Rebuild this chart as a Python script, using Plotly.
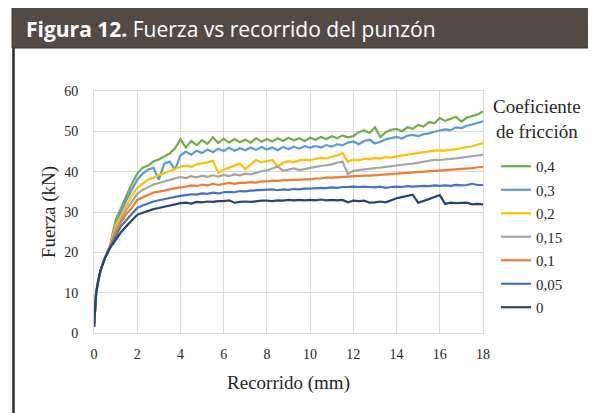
import plotly.graph_objects as go

# Recorrido (mm)
recorrido = [
    0.0, 0.05, 0.1, 0.2, 0.3, 0.5, 0.75, 1.0, 1.25, 1.5, 1.75,
    2.0, 2.25, 2.5, 2.75, 3.0, 3.25, 3.5, 3.75,
    4.0, 4.25, 4.5, 4.75, 5.0, 5.25, 5.5, 5.75,
    6.0, 6.25, 6.5, 6.75, 7.0, 7.25, 7.5, 7.75,
    8.0, 8.25, 8.5, 8.75, 9.0, 9.25, 9.5, 9.75,
    10.0, 10.25, 10.5, 10.75, 11.0, 11.25, 11.5, 11.75,
    12.0, 12.25, 12.5, 12.75, 13.0, 13.25, 13.5, 13.75,
    14.0, 14.25, 14.5, 14.75, 15.0, 15.25, 15.5, 15.75,
    16.0, 16.25, 16.5, 16.75, 17.0, 17.25, 17.5, 17.75,
    18.0,
]

f_04 = [
    1.5, 7, 10, 13, 15.5, 18.5, 21.8, 28, 31, 34, 37,
    39.5, 41, 41.5, 42.5, 43, 43.8, 44.5, 45.8,
    48, 46, 47.6, 46.6, 47.8, 46.9, 48.5, 47.1,
    48.2, 47.2, 48.1, 47.3, 47.9, 47.2, 48.3, 47.4,
    48.1, 47.5, 48.3, 47.6, 48.4, 47.8, 48.3, 47.6,
    48.4, 47.9, 48.6, 48.1, 48.8, 48.3, 49.0, 48.5,
    48.8, 49.8, 50.2, 49.6, 51.0, 48.6, 49.8, 50.4,
    50.6, 50.0, 51.0, 50.6, 51.6, 51.2, 52.3, 52.0,
    53.3, 52.6, 53.2, 53.6, 52.4, 53.4, 53.8, 54.2,
    54.9,
]

f_03 = [
    1.5, 7, 10, 13, 15.5, 18.5, 21.7, 27, 30, 33, 35.5,
    38, 39.5, 40.5, 41, 38, 42, 42.5, 40.5,
    44, 45, 44.2, 45.2, 44.6, 45.5, 44.8, 45.7,
    45.1, 45.9, 45.2, 45.8, 45.3, 46, 45.4, 46.1,
    45.5, 46, 45.3, 46.1, 45.6, 46.2, 45.7, 46.3,
    45.9, 46.4, 46, 46.6, 46.2, 46.8, 46.5, 47.2,
    47.5, 46.8, 47.6, 47.9, 47, 47.4, 48, 48.3,
    48.6, 48.2, 48.9, 49.1, 48.8, 49.3, 49.5, 49.9,
    50.2, 50.5, 50.3, 51, 50.8, 51.4, 51.7, 52.1,
    52.5,
]

f_02 = [
    1.5, 7, 10, 13, 15.5, 18.5, 21.6, 26.5, 29, 31.5, 34,
    36, 37, 38, 38.5, 39.2, 39.6, 40.2, 40.8,
    41.2, 41.5, 41.2, 41.8, 42, 42.3, 42.7, 39.7,
    40.5, 41, 41.5, 42, 40.6, 41.8, 42.9, 42.3,
    42.6, 42.9, 41.3, 42.2, 42.6, 42.3, 42.8, 43,
    42.8, 43.2, 43.4, 43.3, 43.7, 44, 44.6, 42.5,
    43, 42.8, 43.2, 43.1, 43.4, 43.3, 43.6, 43.5,
    43.8, 44, 44.2, 44.4, 44.6, 44.9, 45, 45.2,
    45.3, 45.2, 45.4, 45.6, 45.8, 46, 46.3, 46.7,
    47,
]

f_015 = [
    1.5, 7, 10, 13, 15.5, 18.5, 21.5, 25.5, 28, 30.5, 32.5,
    34.5, 35.5, 36.2, 36.8, 37.2, 37.6, 38, 38.3,
    38.7, 38.4, 38.9, 38.6, 39, 38.7, 39.1, 38.8,
    39.2, 38.9, 39.3, 39.1, 39.5, 39.3, 39.7, 40.1,
    40.3, 40.8, 41.3, 40.2, 40.5, 40.8, 40.4, 40.7,
    41, 41.2, 41.4, 41.6, 41.8, 42.2, 42.5, 39.4,
    40.2, 40.4, 40.6, 40.8, 40.9, 41, 41.2, 41.4,
    41.5, 41.7, 41.9, 42, 42.2, 42.5, 42.7, 42.9,
    42.9, 43, 43.1, 43.3, 43.5, 43.7, 43.8, 44,
    44.2,
]

f_01 = [
    1.5, 7, 10, 13, 15.5, 18.5, 21.4, 25, 27.5, 29.5, 31,
    33, 33.7, 34.2, 34.8, 35, 35.3, 35.6, 35.9,
    36.1, 36.3, 36.6, 36.4, 36.8, 36.6, 37, 36.7,
    37, 37.2, 37, 37.3, 37.2, 37.4, 37.3, 37.6,
    37.6, 37.8, 37.7, 37.9, 37.9, 38, 38, 38.1,
    38.1, 38.3, 38.3, 38.5, 38.5, 38.6, 38.7, 38.8,
    38.8, 38.9, 39, 39, 39.1, 39.2, 39.2, 39.4,
    39.4, 39.5, 39.6, 39.7, 39.8, 39.9, 40, 40.1,
    40.2, 40.3, 40.4, 40.6, 40.7, 40.8, 40.9, 41.1,
    41.2,
]

f_005 = [
    1.5, 7, 10, 13, 15.5, 18.5, 21.3, 24, 26.5, 28, 29.5,
    31, 31.6, 32.2, 32.6, 32.9, 33.2, 33.5, 33.8,
    34, 34.2, 34.4, 34.3, 34.6, 34.5, 34.8, 34.6,
    34.9, 35, 34.9, 35.2, 35.1, 35.3, 35.4, 35.5,
    35.5, 35.6, 35.4, 35.6, 35.5, 35.7, 35.6, 35.8,
    35.8, 35.9, 36, 35.9, 36.1, 36, 36.2, 36.2,
    36.3, 36.2, 36.3, 36.2, 36.1, 36.3, 36, 36.2,
    36.3, 36.2, 36.4, 36.3, 36.4, 36.5, 36.4, 36.6,
    36.5, 36.6, 36.5, 36.7, 36.6, 36.7, 37, 36.7,
    36.7,
]

f_0 = [
    1.5, 7, 10, 13, 15.5, 18.5, 21.2, 23, 25, 26.5, 28,
    29.3, 29.8, 30.3, 30.7, 31, 31.3, 31.6, 31.9,
    32.2, 32.3, 32.1, 32.5, 32.4, 32.6, 32.5, 32.7,
    32.7, 32.9, 32.3, 32.5, 32.6, 32.5, 32.7, 32.8,
    32.8, 32.7, 32.9, 32.8, 33, 32.9, 33, 32.9,
    33, 32.9, 33.1, 32.9, 33, 32.9, 33, 32.4,
    32.8, 32.7, 32.8, 32.3, 32.4, 32.6, 32.4, 33,
    33.4, 33.7, 34, 34.3, 32.3, 32.7, 33.2, 33.7,
    34.2, 32, 32.3, 32.2, 32.3, 32.3, 31.9, 32,
    31.9,
]

series_names = ["0,4", "0,3", "0,2", "0,15", "0,1", "0,05", "0"]
series_values = [f_04, f_03, f_02, f_015, f_01, f_005, f_0]
series_colors = ["#70ad47", "#5b9bd5", "#ffc000", "#a5a5a5", "#ed7d31", "#4472c4", "#264478"]

x_ticks = [0, 2, 4, 6, 8, 10, 12, 14, 16, 18]
y_ticks = [0, 10, 20, 30, 40, 50, 60]

fig = go.Figure()
for name, vals, col in zip(series_names, series_values, series_colors):
    fig.add_trace(go.Scatter(
        x=recorrido, y=vals, name=name, mode="lines", legendgroup=name,
        line=dict(color=col, width=2.2),
    ))

serif = "Liberation Serif"
OFF = 8  # page body margin of the html page
W, H = 596 - OFF, 413 - OFF
L, T = 94 - OFF, 91 - OFF
pw, ph = 389, 242
R, B = W - L - pw, H - T - ph


def px_x(p):
    return (p - OFF - L) / pw


def px_y(p):
    return (T + ph - (p - OFF)) / ph


fig.update_layout(
    width=W, height=H, autosize=False,
    margin=dict(l=L, r=R, t=T, b=B, autoexpand=False),
    paper_bgcolor="white", plot_bgcolor="white",
    font=dict(family=serif, color="#262626"),
    showlegend=True,
    legend=dict(
        x=px_x(496), y=px_y(150), xanchor="left", yanchor="top",
        font=dict(family=serif, size=15, color="#262626"),
        tracegroupgap=1, bgcolor="rgba(0,0,0,0)",
        itemwidth=30,
    ),
    xaxis=dict(
        range=[0, 18], tickvals=x_ticks, ticktext=[str(v) for v in x_ticks],
        showgrid=True, gridcolor="#d9d9d9", gridwidth=1,
        showline=True, linecolor="#d9d9d9", linewidth=1, mirror=True,
        zeroline=False, ticks="", ticklabelstandoff=8, automargin=False,
        tickfont=dict(family=serif, size=14, color="#262626"),
        title=dict(text="Recorrido (mm)", font=dict(family=serif, size=19, color="#262626"), standoff=14),
    ),
    yaxis=dict(
        range=[0, 60], tickvals=y_ticks, ticktext=[str(v) for v in y_ticks],
        showgrid=True, gridcolor="#d9d9d9", gridwidth=1,
        showline=True, linecolor="#d9d9d9", linewidth=1, mirror=True,
        zeroline=False, ticks="", ticklabelstandoff=12, automargin=False,
        tickfont=dict(family=serif, size=14, color="#262626"),
        title=dict(text="Fuerza (kN)", font=dict(family=serif, size=19, color="#262626"), standoff=3),
    ),
    shapes=[
        dict(type="rect", xref="paper", yref="paper",
             x0=px_x(12), x1=px_x(610), y0=px_y(48), y1=px_y(7),
             fillcolor="#534a46", line=dict(color="#3a3432", width=1), layer="above"),
        dict(type="line", xref="paper", yref="paper",
             x0=px_x(13.5), x1=px_x(13.5), y0=px_y(48), y1=px_y(430),
             line=dict(color="#2b2b2b", width=2.5)),
    ],
    annotations=[
        dict(text="<b>Figura 12.</b> Fuerza vs recorrido del punzón",
             xref="paper", yref="paper", x=px_x(24), y=px_y(29),
             xanchor="left", yanchor="middle", showarrow=False,
             font=dict(family="Open Sans, Noto Sans, sans-serif", size=21, color="white")),
        dict(text="Coeficiente<br>de fricción",
             xref="paper", yref="paper", x=px_x(537), y=px_y(119),
             xanchor="center", yanchor="middle", showarrow=False, align="center",
             font=dict(family=serif, size=19, color="#262626")),
    ],
)

fig.write_html("out.html")
